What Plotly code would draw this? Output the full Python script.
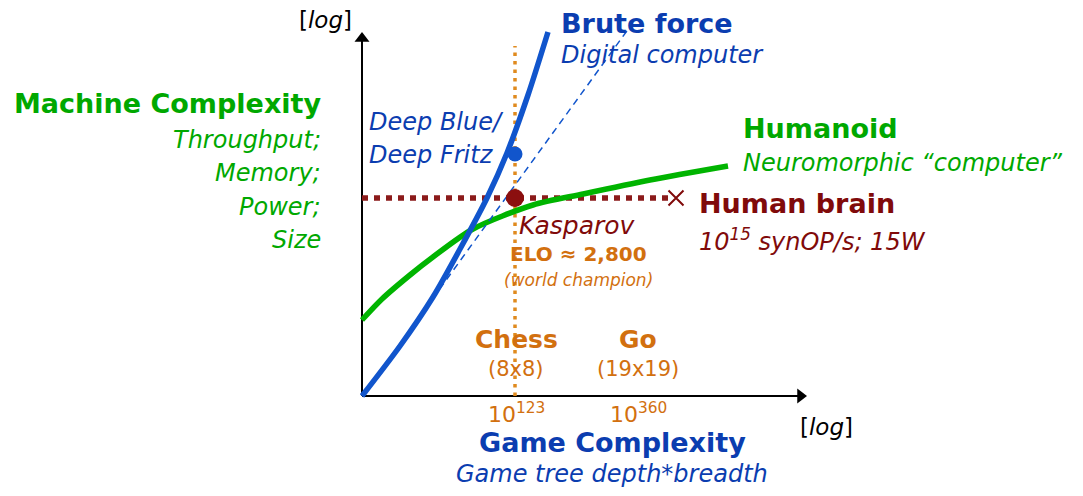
import plotly.graph_objects as go

# ---- data (conceptual diagram, units = arbitrary log scale) ----
brute_x = [0, 38, 71, 98, 125, 145, 166, 186]
brute_y = [0, 50, 99, 147, 198, 243, 301, 364]
trend_x = [0, 267]
trend_y = [0, 368]
humanoid_x = [0, 20, 48, 71, 111, 171, 221, 288, 366]
humanoid_y = [76, 97, 121, 139, 167, 191, 202, 216, 230]
brain_x = [0, 308]
brain_y = [198, 198]
brain_mark = [314, 198]
chess_x = [153, 153]
chess_y = [0, 350]
deep_blue = [153, 242]
kasparov = [153, 198]
game_ticks = [154, 276]
game_names = ["Chess", "Go"]
game_boards = ["(8x8)", "(19x19)"]
game_sizes = ["10<sup>123</sup>", "10<sup>360</sup>"]
y_axis_top = 364
x_axis_end = 445

BLUE_L = "#1155CC"
BLUE_T = "#0B3DB0"
GREEN_L = "#00B400"
GREEN_T = "#00A800"
MAROON = "#800A0A"
ORANGE_T = "#D2700F"
ORANGE_L = "#E08A1E"
FONT = "DejaVu Sans"

fig = go.Figure()
# axes with arrow heads
fig.add_trace(go.Scatter(x=[0, 0], y=[0, y_axis_top - 8], mode="lines",
                         line=dict(color="black", width=2)))
fig.add_trace(go.Scatter(x=[0, x_axis_end - 8], y=[0, 0], mode="lines",
                         line=dict(color="black", width=2)))
fig.add_trace(go.Scatter(x=[0], y=[y_axis_top - 6.5], mode="markers",
                         marker=dict(symbol="triangle-up", size=13, color="black")))
fig.add_trace(go.Scatter(x=[x_axis_end - 6.5], y=[0], mode="markers",
                         marker=dict(symbol="triangle-right", size=13, color="black")))

fig.add_trace(go.Scatter(x=brain_x, y=brain_y, mode="lines",
                         line=dict(color="#8B1A1A", width=5.5, dash="6px,6px")))
fig.add_trace(go.Scatter(x=chess_x, y=chess_y, mode="lines",
                         line=dict(color=ORANGE_L, width=3.5, dash="3.5px,5px")))
fig.add_trace(go.Scatter(x=humanoid_x, y=humanoid_y, mode="lines", line_shape="spline",
                         line=dict(color=GREEN_L, width=5.5, smoothing=0.8)))
fig.add_trace(go.Scatter(x=trend_x, y=trend_y, mode="lines",
                         line=dict(color=BLUE_L, width=1.5, dash="7px,5px")))
fig.add_trace(go.Scatter(x=brute_x, y=brute_y, mode="lines", line_shape="spline",
                         line=dict(color=BLUE_L, width=5.5, smoothing=0.8)))
fig.add_trace(go.Scatter(x=[deep_blue[0]], y=[deep_blue[1]], mode="markers",
                         marker=dict(color=BLUE_L, size=15)))
fig.add_trace(go.Scatter(x=[kasparov[0]], y=[kasparov[1]], mode="markers",
                         marker=dict(color="#8B0F0F", size=18)))
fig.add_trace(go.Scatter(x=[brain_mark[0]], y=[brain_mark[1]], mode="markers",
                         marker=dict(symbol="x-thin", size=15,
                                     line=dict(color=MAROON, width=2))))

ann = []
def txt(x, y, t, color, size, bold=False, italic=False, xa="left"):
    ann.append(dict(x=x, y=y, text=t, showarrow=False, xanchor=xa, yanchor="middle",
                    borderpad=0,
                    font=dict(family=FONT, size=size, color=color,
                              weight="bold" if bold else "normal",
                              style="italic" if italic else "normal")))

txt(-37, 376, "[<i>log</i>]", "black", 23, xa="center")
txt(464, -31, "[<i>log</i>]", "black", 23, xa="center")
txt(198, 373, "Brute force", BLUE_T, 27, bold=True)
txt(198, 341, "Digital computer", BLUE_T, 24, italic=True)
txt(-40, 293, "Machine Complexity", GREEN_T, 27, bold=True, xa="right")
for yy, t in zip([256, 223, 189, 156], ["Throughput;", "Memory;", "Power;", "Size"]):
    txt(-40, yy, t, GREEN_T, 24, italic=True, xa="right")
txt(6, 274, "Deep Blue/", BLUE_T, 24, italic=True)
txt(6, 241, "Deep Fritz", BLUE_T, 24, italic=True)
txt(380, 268, "Humanoid", GREEN_T, 27, bold=True)
txt(380, 233, "Neuromorphic \u201ccomputer\u201d", GREEN_T, 24, italic=True)
txt(336, 193, "Human brain", MAROON, 27, bold=True)
txt(336, 156, "10<sup>15</sup> synOP/s; 15W", MAROON, 24, italic=True)
txt(156, 171, "Kasparov", MAROON, 25, italic=True)
txt(216, 142, "ELO \u2248 2,800", ORANGE_T, 20, bold=True, xa="center")
txt(216, 116, "(world champion)", ORANGE_T, 17, italic=True, xa="center")
for gx, n, b, s in zip(game_ticks, game_names, game_boards, game_sizes):
    txt(gx, 57, n, ORANGE_T, 25, bold=True, xa="center")
    txt(gx, 27, b, ORANGE_T, 21, xa="center")
    txt(gx, -17, s, ORANGE_T, 22, xa="center")
txt(250, -46, "Game Complexity", BLUE_T, 27, bold=True, xa="center")
txt(250, -78, "Game tree depth*breadth", BLUE_T, 24, italic=True, xa="center")

# page has an 8px body margin: 1 data unit = 1 px, origin lands at page (362, 396)
fig.update_layout(
    width=1075, height=488, margin=dict(l=0, r=0, t=0, b=0),
    paper_bgcolor="white", plot_bgcolor="white", showlegend=False,
    xaxis=dict(range=[-354, 721], visible=False, fixedrange=True),
    yaxis=dict(range=[-100, 388], visible=False, fixedrange=True),
    annotations=ann,
)
fig.write_html("out.html")
